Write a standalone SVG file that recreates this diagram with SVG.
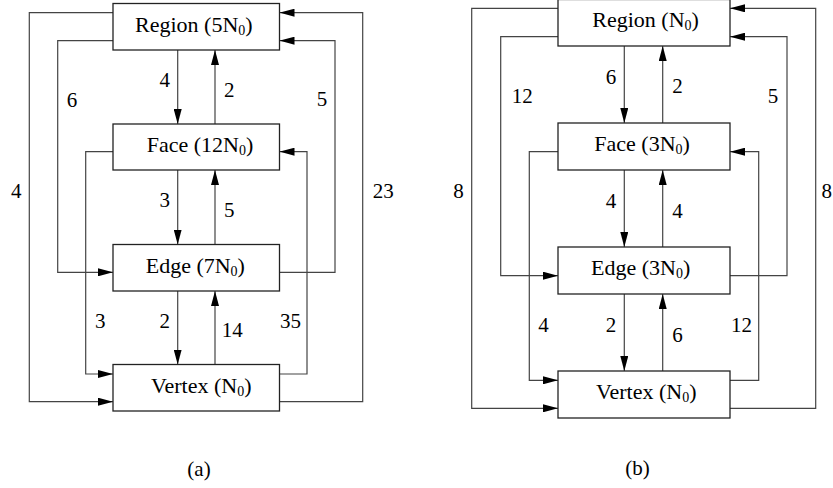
<svg xmlns="http://www.w3.org/2000/svg" width="833" height="488" viewBox="0 0 833 488">
<defs>
<marker id="ah" viewBox="0 0 15 8" refX="15" refY="4" markerWidth="15" markerHeight="8" markerUnits="userSpaceOnUse" orient="auto">
<path d="M0,0 L15,4 L0,8 z" fill="#000"/>
</marker>
<style>
.box{fill:#fff;stroke:#222;stroke-width:1.3}
.c{fill:none;stroke:#444;stroke-width:1.2;marker-end:url(#ah)}
text{font-family:"Liberation Serif","Times New Roman",serif;font-size:21px;fill:#000}
.nl{font-size:22px}
.sub{font-size:14px}
</style>
</defs>
<rect width="833" height="488" fill="#fff"/>

<g id="connectors">
<path class="c" d="M177.7,50 V124"/>
<path class="c" d="M215,124 V50"/>
<path class="c" d="M177.7,170 V244.5"/>
<path class="c" d="M215,244.5 V170"/>
<path class="c" d="M177.7,291 V364.5"/>
<path class="c" d="M215,364.5 V291"/>
<path class="c" d="M113,12.7 H29.3 V401.7 H113"/>
<path class="c" d="M113,40.7 H57.7 V272.3 H113"/>
<path class="c" d="M113,151.7 H85.7 V374 H113"/>
<path class="c" d="M279.5,401.7 H362.7 V12.7 H279.5"/>
<path class="c" d="M279.5,272.3 H335 V40.7 H279.5"/>
<path class="c" d="M279.5,374 H307 V151.7 H279.5"/>

<path class="c" d="M624.3,46 V123"/>
<path class="c" d="M662.7,123 V46"/>
<path class="c" d="M624.3,170 V247"/>
<path class="c" d="M662.7,247 V170"/>
<path class="c" d="M624.3,294 V371"/>
<path class="c" d="M662.7,371 V294"/>
<path class="c" d="M558,8.3 H471.7 V408.3 H558"/>
<path class="c" d="M558,36.7 H500.7 V275.7 H558"/>
<path class="c" d="M558,151.7 H529.3 V380.3 H558"/>
<path class="c" d="M730,408.3 H815.7 V8.3 H730"/>
<path class="c" d="M730,275.7 H787 V36.7 H730"/>
<path class="c" d="M730,380.3 H758.7 V151.7 H730"/>

<g id="labels">
<text x="159.5" y="87.3">4</text>
<text x="224" y="96.7">2</text>
<text x="159.5" y="207.3">3</text>
<text x="224" y="216.7">5</text>
<text x="159.5" y="328.3">2</text>
<text x="221.7" y="337.3">14</text>
<text x="11" y="197.7">4</text>
<text x="66.7" y="106.7">6</text>
<text x="95" y="328.3">3</text>
<text x="372.7" y="198.3">23</text>
<text x="316.7" y="106">5</text>
<text x="280" y="328.3">35</text>

<text x="605.7" y="84.3">6</text>
<text x="672.3" y="93.3">2</text>
<text x="605.7" y="208.3">4</text>
<text x="672.3" y="217.7">4</text>
<text x="605.7" y="332.3">2</text>
<text x="672.3" y="341.7">6</text>
<text x="453.3" y="198.3">8</text>
<text x="511.7" y="103.3">12</text>
<text x="538.3" y="332.3">4</text>
<text x="821.5" y="198.3">8</text>
<text x="767.7" y="103.3">5</text>
<text x="731" y="332.3">12</text>
</g>
</g>

<g id="a-region"><rect class="box" x="113" y="3.5" width="166.5" height="46.5"/><text class="nl" x="135" y="31.7">Region (5N<tspan class="sub" dy="3">0</tspan><tspan dy="-3">)</tspan></text></g>
<g id="a-face"><rect class="box" x="113" y="124" width="166.5" height="46"/><text class="nl" x="146.7" y="151.7">Face (12N<tspan class="sub" dy="3">0</tspan><tspan dy="-3">)</tspan></text></g>
<g id="a-edge"><rect class="box" x="113" y="244.5" width="166.5" height="46.5"/><text class="nl" x="145.7" y="272.7">Edge (7N<tspan class="sub" dy="3">0</tspan><tspan dy="-3">)</tspan></text></g>
<g id="a-vertex"><rect class="box" x="113" y="364.5" width="166.5" height="46.5"/><text class="nl" x="151" y="393.3">Vertex (N<tspan class="sub" dy="3">0</tspan><tspan dy="-3">)</tspan></text></g>
<text x="199" y="476" text-anchor="middle">(a)</text>

<g id="b-region"><rect class="box" x="558" y="-0.5" width="172" height="46.5"/><text class="nl" x="592.3" y="26.7">Region (N<tspan class="sub" dy="3">0</tspan><tspan dy="-3">)</tspan></text></g>
<g id="b-face"><rect class="box" x="558" y="123" width="172" height="47"/><text class="nl" x="594.3" y="150.7">Face (3N<tspan class="sub" dy="3">0</tspan><tspan dy="-3">)</tspan></text></g>
<g id="b-edge"><rect class="box" x="558" y="247" width="172" height="47"/><text class="nl" x="591" y="275">Edge (3N<tspan class="sub" dy="3">0</tspan><tspan dy="-3">)</tspan></text></g>
<g id="b-vertex"><rect class="box" x="558" y="371" width="172" height="47"/><text class="nl" x="596" y="399.3">Vertex (N<tspan class="sub" dy="3">0</tspan><tspan dy="-3">)</tspan></text></g>
<text x="637.5" y="475" text-anchor="middle">(b)</text>
</svg>
